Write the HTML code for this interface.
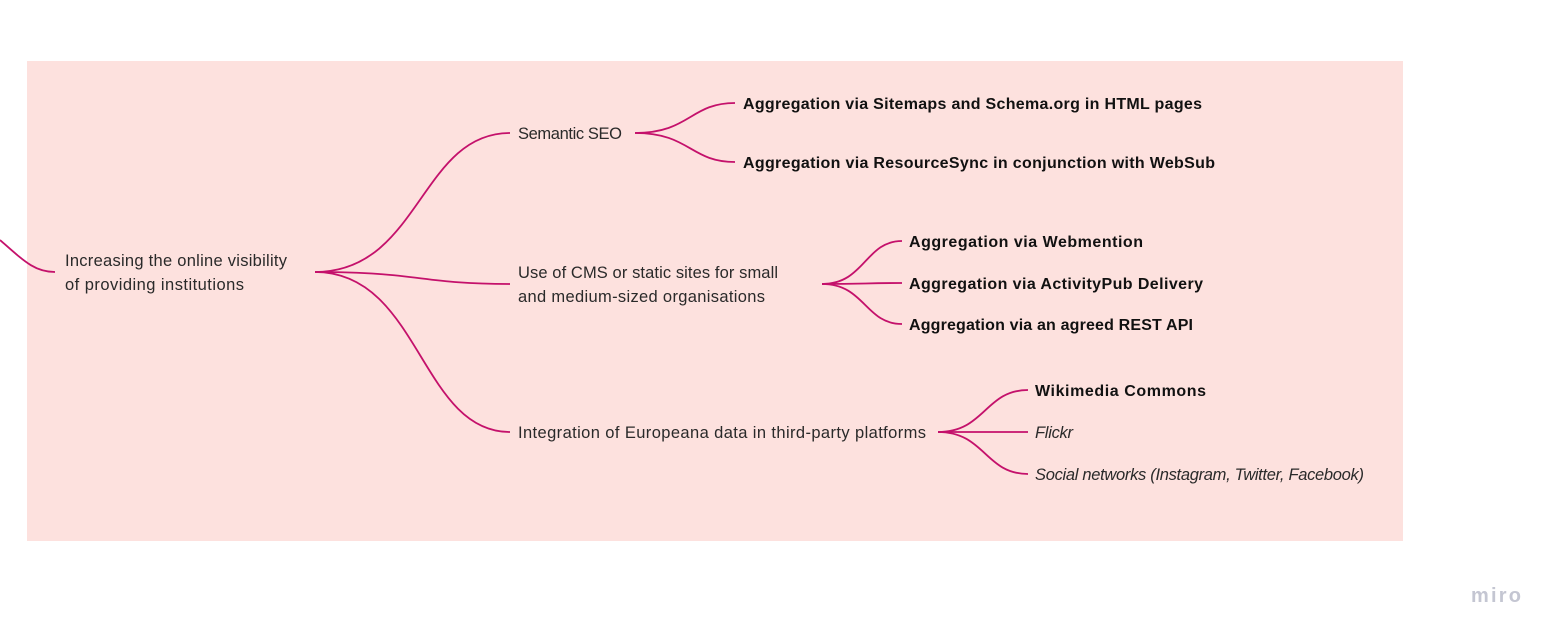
<!DOCTYPE html>
<html><head><meta charset="utf-8"><style>
html,body{margin:0;padding:0;background:#fff;width:1558px;height:639px;overflow:hidden}
text{font-family:"Liberation Sans",sans-serif;font-size:16.5px;fill:#2a2a2a}
.b{font-weight:bold;fill:#111;font-size:16px}
.i{font-style:italic}
</style></head><body>
<svg width="1558" height="639" viewBox="0 0 1558 639" xmlns="http://www.w3.org/2000/svg">
<rect x="27" y="61" width="1376" height="480" fill="#fde1de"/>
<g fill="none" stroke="#c4116b" stroke-width="1.8">
<path d="M0,240 C25,262 35,272 55,272"/>
<path d="M315,272 C420,272 420,133 510,133"/>
<path d="M315,272 C420,272 420,284 510,284"/>
<path d="M315,272 C420,272 420,432 510,432"/>
<path d="M635,133 C690,133 690,103 735,103"/>
<path d="M635,133 C690,133 690,162 735,162"/>
<path d="M822,284 C865,284 865,241 902,241"/>
<path d="M822,284 C865,284 865,283 902,283"/>
<path d="M822,284 C865,284 865,324 902,324"/>
<path d="M938,432 C985,432 985,390 1028,390"/>
<path d="M938,432 C985,432 985,432 1028,432"/>
<path d="M938,432 C985,432 985,474 1028,474"/>
</g>
<text x="65" y="266" textLength="222">Increasing the online visibility</text>
<text x="65" y="290" textLength="179">of providing institutions</text>
<text x="518" y="139" textLength="104">Semantic SEO</text>
<text x="518" y="278" textLength="260">Use of CMS or static sites for small</text>
<text x="518" y="302" textLength="247">and medium-sized organisations</text>
<text x="518" y="438" textLength="408">Integration of Europeana data in third-party platforms</text>
<text class="b" x="743" y="109" textLength="459">Aggregation via Sitemaps and Schema.org in HTML pages</text>
<text class="b" x="743" y="168" textLength="472">Aggregation via ResourceSync in conjunction with WebSub</text>
<text class="b" x="909" y="247" textLength="234">Aggregation via Webmention</text>
<text class="b" x="909" y="289" textLength="294">Aggregation via ActivityPub Delivery</text>
<text class="b" x="909" y="330" textLength="284">Aggregation via an agreed REST API</text>
<text class="b" x="1035" y="396" textLength="171">Wikimedia Commons</text>
<text class="i" x="1035" y="438" textLength="38">Flickr</text>
<text class="i" x="1035" y="480" textLength="329">Social networks (Instagram, Twitter, Facebook)</text>
<text x="1471" y="602" style="font-size:20px;fill:#c4c6d2;font-weight:bold" textLength="50">miro</text>
</svg>
</body></html>
